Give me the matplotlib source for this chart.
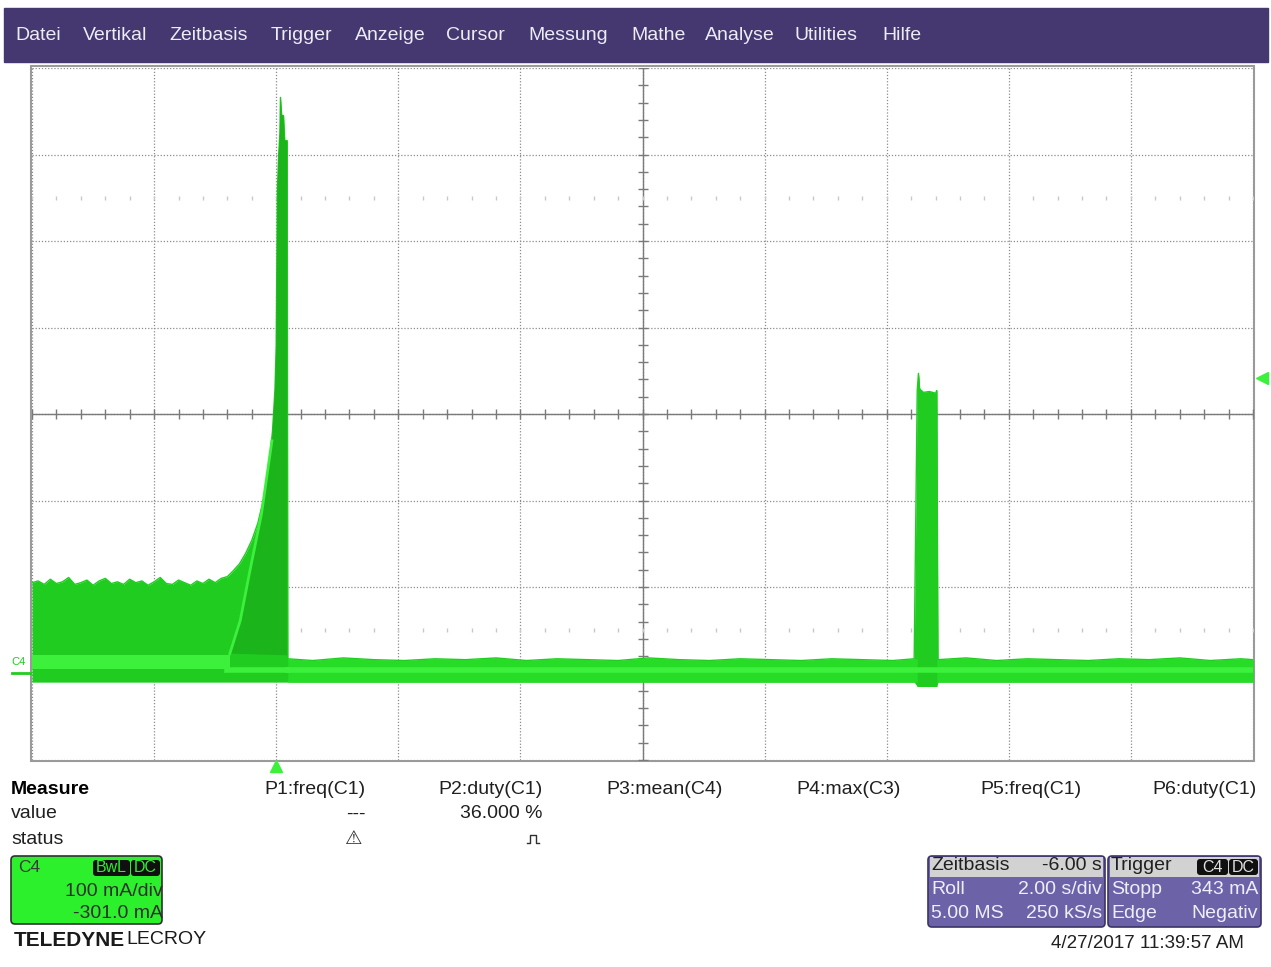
import numpy as np
import matplotlib.pyplot as plt
from matplotlib.patches import Rectangle, FancyBboxPatch, Polygon

plt.rcParams['font.family'] = ['Liberation Sans', 'DejaVu Sans']

# ---- channel C4 trace envelope (time in s, current in mA) ----
pre_t = [-4.0, -3.9, -3.8, -3.7, -3.6, -3.5, -3.4, -3.3, -3.2, -3.1, -3.0, -2.9, -2.8,
         -2.7, -2.6, -2.5, -2.4, -2.3, -2.2, -2.1, -2.0, -1.9, -1.8, -1.7, -1.6, -1.5,
         -1.4, -1.3, -1.2, -1.1, -1.0, -0.9]
pre_top = [106, 108, 104, 110, 105, 107, 112, 104, 106, 109, 103, 108, 111, 105,
           107, 104, 110, 106, 108, 103, 107, 112, 105, 104, 109, 106, 103, 108,
           105, 110, 106, 111]

rise_t = [-0.8, -0.7, -0.6, -0.5, -0.4, -0.3, -0.2, -0.12, -0.06, -0.02, 0.0,
          0.02, 0.04, 0.06, 0.07, 0.09, 0.12, 0.14, 0.16, 0.18]
rise_top = [113, 120, 128, 140, 155, 175, 205, 240, 282, 330, 380,
            560, 600, 625, 667, 646, 646, 617, 617, 617]

base_t = [0.19, 0.6, 1.1, 1.6, 2.1, 2.6, 3.1, 3.6, 4.1, 4.6, 5.1, 5.6, 6.1, 6.6,
          7.1, 7.6, 8.1, 8.6, 9.1, 9.6, 10.1, 10.45]
base_top = [18, 16, 19, 17, 16, 18, 17, 19, 16, 18, 17, 16, 19, 17,
            16, 18, 17, 16, 18, 17, 16, 18]

pulse_t = [10.5, 10.52, 10.54, 10.6, 10.7, 10.8, 10.82]
pulse_top = [328, 348, 330, 326, 327, 325, 328]

tail_t = [10.84, 11.3, 11.8, 12.3, 12.8, 13.3, 13.8, 14.3, 14.8, 15.3, 15.8, 16.0]
tail_top = [17, 19, 16, 18, 17, 16, 18, 17, 19, 16, 18, 17]

bottom_level = -9
pulse_bottom = -14

# brighter persistence band, bright diagonal and darker rise region
band_t = [-4.0, -0.76]
band_lo = [6, 6]
band_hi = [22, 22]
diag_t = [-0.76, -0.59, -0.43, -0.24, -0.07]
diag_mA = [24, 62, 120, 186, 270]

# ---- screen layout (pixels) ----
W, H = 1271, 967
gx0, gx1, gy0, gy1 = 32, 1253, 68, 760
t_min, t_max = -4.0, 16.0
mA_min, mA_max = -99.0, 701.0

menu_items = ['Datei', 'Vertikal', 'Zeitbasis', 'Trigger', 'Anzeige', 'Cursor',
              'Messung', 'Mathe', 'Analyse', 'Utilities', 'Hilfe']
menu_x = [15, 83, 169, 271, 355, 446, 528, 631, 705, 795, 882]

meas_names = ['P1:freq(C1)', 'P2:duty(C1)', 'P3:mean(C4)', 'P4:max(C3)', 'P5:freq(C1)', 'P6:duty(C1)']
meas_x = [366, 543, 723, 901, 1081, 1257]
meas_values = ['---', '36.000 %', '', '', '', '']

green = '#20cc20'
green_bright = '#3cf03c'
green_dark = '#1bb41b'
green_base = '#26dc26'
purple = '#45376f'
fs = 14

fig = plt.figure(figsize=(W / 100, H / 100), dpi=100)
ui = fig.add_axes([0, 0, 1, 1])
ui.set_xlim(0, W)
ui.set_ylim(H, 0)
ui.axis('off')

# menu bar
ui.add_patch(Rectangle((4, 8), 1264, 54, color=purple))
for name, x in zip(menu_items, menu_x):
    ui.text(x, 36, name, color='#ececf4', fontsize=14, va='center', ha='left')

# frame around grid
ui.add_patch(Rectangle((gx0 - 1, gy0 - 2), gx1 - gx0 + 2, gy1 - gy0 + 3,
                       fill=False, ec='#9a9a9a', lw=1.5))

# data axes
ax = fig.add_axes([gx0 / W, (H - gy1) / H, (gx1 - gx0) / W, (gy1 - gy0) / H])
ax.set_xlim(t_min, t_max)
ax.set_ylim(mA_min, mA_max)
ax.set_xticks(np.arange(t_min, t_max + 0.1, 2.0))
ax.set_yticks(np.arange(mA_min, mA_max + 1, 100.0))
ax.tick_params(length=0, labelbottom=False, labelleft=False)
for s in ax.spines.values():
    s.set_visible(False)
ax.grid(True, color='#8c8c8c', lw=0.9, ls=(0, (1, 1.5)))
ax.set_axisbelow(True)

# centre cross with minor ticks
tc = (t_min + t_max) / 2
mc = (mA_min + mA_max) / 2
ax.axhline(mc, color='#7a7a7a', lw=1, zorder=1)
ax.axvline(tc, color='#7a7a7a', lw=1, zorder=1)
ax.plot(np.arange(t_min, t_max + 0.01, 0.4), np.full(51, mc), ls='none',
        marker='|', ms=7, color='#7a7a7a', mew=1, zorder=1)
ax.plot(np.full(41, tc), np.arange(mA_min, mA_max + 1, 20.0), ls='none',
        marker='_', ms=7, color='#7a7a7a', mew=1, zorder=1)
for lvl in (mA_max - 150, mA_min + 150):
    ax.plot(np.arange(t_min, t_max + 0.01, 0.4), np.full(51, lvl), ls='none',
            marker='|', ms=3, color='#c8c8c8', mew=1, zorder=1)

# trace
all_t = pre_t + rise_t + base_t + pulse_t + tail_t
all_top = pre_top + rise_top + base_top + pulse_top + tail_top
all_bot = ([bottom_level] * (len(pre_t) + len(rise_t) + len(base_t))
           + [pulse_bottom] * len(pulse_t) + [bottom_level] * len(tail_t))
ax.fill_between(all_t, all_bot, all_top, color=green, lw=0, zorder=3)
ax.plot(all_t, all_top, color=green, lw=1.0, zorder=3)

# darker region right of the bright diagonal, up the spike
i0 = rise_t.index(-0.06)
dark_pts = (list(zip(diag_t, diag_mA)) + list(zip(rise_t[i0:], rise_top[i0:]))
            + [(rise_t[-1], band_hi[0])])
ax.add_patch(Polygon(dark_pts, closed=True, color=green_dark, lw=0, zorder=4))
ax.fill_between(band_t, band_lo, band_hi, color=green_bright, lw=0, zorder=4)
ax.plot(diag_t, diag_mA, color=green_bright, lw=2, zorder=5)

# brighter baseline after the spike
post_t = base_t + pulse_t + tail_t
post_top = base_top + [base_top[-1]] * len(pulse_t) + tail_top
ax.fill_between(post_t, [bottom_level] * len(post_t), post_top, color=green_base, lw=0, zorder=4)
ax.fill_between(pulse_t, [pulse_bottom] * len(pulse_t), pulse_top, color=green, lw=0, zorder=4)
ax.plot(post_t, [5] * len(post_t), color=green_bright, lw=4, zorder=5)
ax.plot([rise_t[0], rise_t[-1]], [5, 5], color=green_bright, lw=4, zorder=5)

# channel markers
ui.text(11, 662, 'C4', color=green, fontsize=8, va='center')
ui.plot([12, 30], [673, 673], color=green, lw=2)
ui.plot([gx0 + (0 - t_min) / (t_max - t_min) * (gx1 - gx0)], [766], marker='^',
        ms=9, color=green_bright, ls='none')
trig_y = gy1 - (343 - mA_min) / (mA_max - mA_min) * (gy1 - gy0)
ui.plot([1262], [trig_y], marker='<', ms=9, color=green_bright, ls='none')

# measurement table
ui.text(11, 789, 'Measure', fontsize=fs, fontweight='bold', va='center')
ui.text(11, 814, 'value', fontsize=fs, va='center', color='#202020')
ui.text(11, 839, 'status', fontsize=fs, va='center', color='#202020')
for name, x, v in zip(meas_names, meas_x, meas_values):
    ui.text(x, 789, name, fontsize=fs, ha='right', va='center', color='#202020')
    if v:
        ui.text(x, 814, v, fontsize=fs, ha='right', va='center', color='#202020')
ui.text(354, 838, '\u26a0', fontsize=14, ha='center', va='center', color='#303030',
        family=['DejaVu Sans'], fontweight='bold')
ui.plot([527, 530, 530, 536, 536, 539], [843, 843, 835, 835, 843, 843], color='#303030', lw=1)

# C4 channel box
ui.add_patch(FancyBboxPatch((11, 856), 151, 68, boxstyle='round,pad=0,rounding_size=4',
                            fc='#2cf02c', ec='#303030', lw=1.2))
ui.text(18, 868, 'C4', fontsize=12.5, va='center', color='#3a3a3a')
for lbl, x0, w in (('BwL', 93, 37), ('DC', 131, 29)):
    ui.add_patch(FancyBboxPatch((x0, 860), w, 16, boxstyle='round,pad=0,rounding_size=3',
                                fc='#101010', ec='none'))
    ui.text(x0 + w / 2, 868, lbl, fontsize=11.5, ha='center', va='center', color='#2cf02c')
ui.text(163, 892, '100 mA/div', fontsize=fs, ha='right', va='center', color='#303030')
ui.text(163, 914, '-301.0 mA', fontsize=fs, ha='right', va='center', color='#303030')

ui.text(14, 940, 'TELEDYNE', fontsize=15, fontweight='bold', va='center', color='#1a1a1a')
ui.text(126, 940, 'LECROY', fontsize=14, va='center', color='#1a1a1a')


def info_box(x0, x1, rows):
    ui.add_patch(FancyBboxPatch((x0, 856), x1 - x0, 71, boxstyle='round,pad=0,rounding_size=4',
                                fc='#6c62a8', ec='#3c3466', lw=1.2))
    ui.add_patch(Rectangle((x0 + 2, 857), x1 - x0 - 4, 20, fc='#d2d2d2', ec='none'))
    for i, (left, right) in enumerate(rows):
        y = 866 + i * 24
        c = '#202020' if i == 0 else '#eeeefa'
        ui.text(x0 + 3, y, left, fontsize=fs, va='center', color=c)
        if right:
            ui.text(x1 - 3, y, right, fontsize=fs, ha='right', va='center', color=c)


info_box(928, 1105, [('Zeitbasis', '-6.00 s'), ('Roll', '2.00 s/div'), ('5.00 MS', '250 kS/s')])
info_box(1108, 1261, [('Trigger', ''), ('Stopp', '343 mA'), ('Edge', 'Negativ')])
for lbl, x0, w in (('C4', 1197, 31), ('DC', 1229, 29)):
    ui.add_patch(FancyBboxPatch((x0, 859), w, 16, boxstyle='round,pad=0,rounding_size=3',
                                fc='#101010', ec='none'))
    ui.text(x0 + w / 2, 867, lbl, fontsize=11.5, ha='center', va='center', color='#e0e0e0')

ui.text(1244, 943, '4/27/2017 11:39:57 AM', fontsize=13.5, ha='right', va='center', color='#202020')

fig.savefig('out.png', dpi=100)
